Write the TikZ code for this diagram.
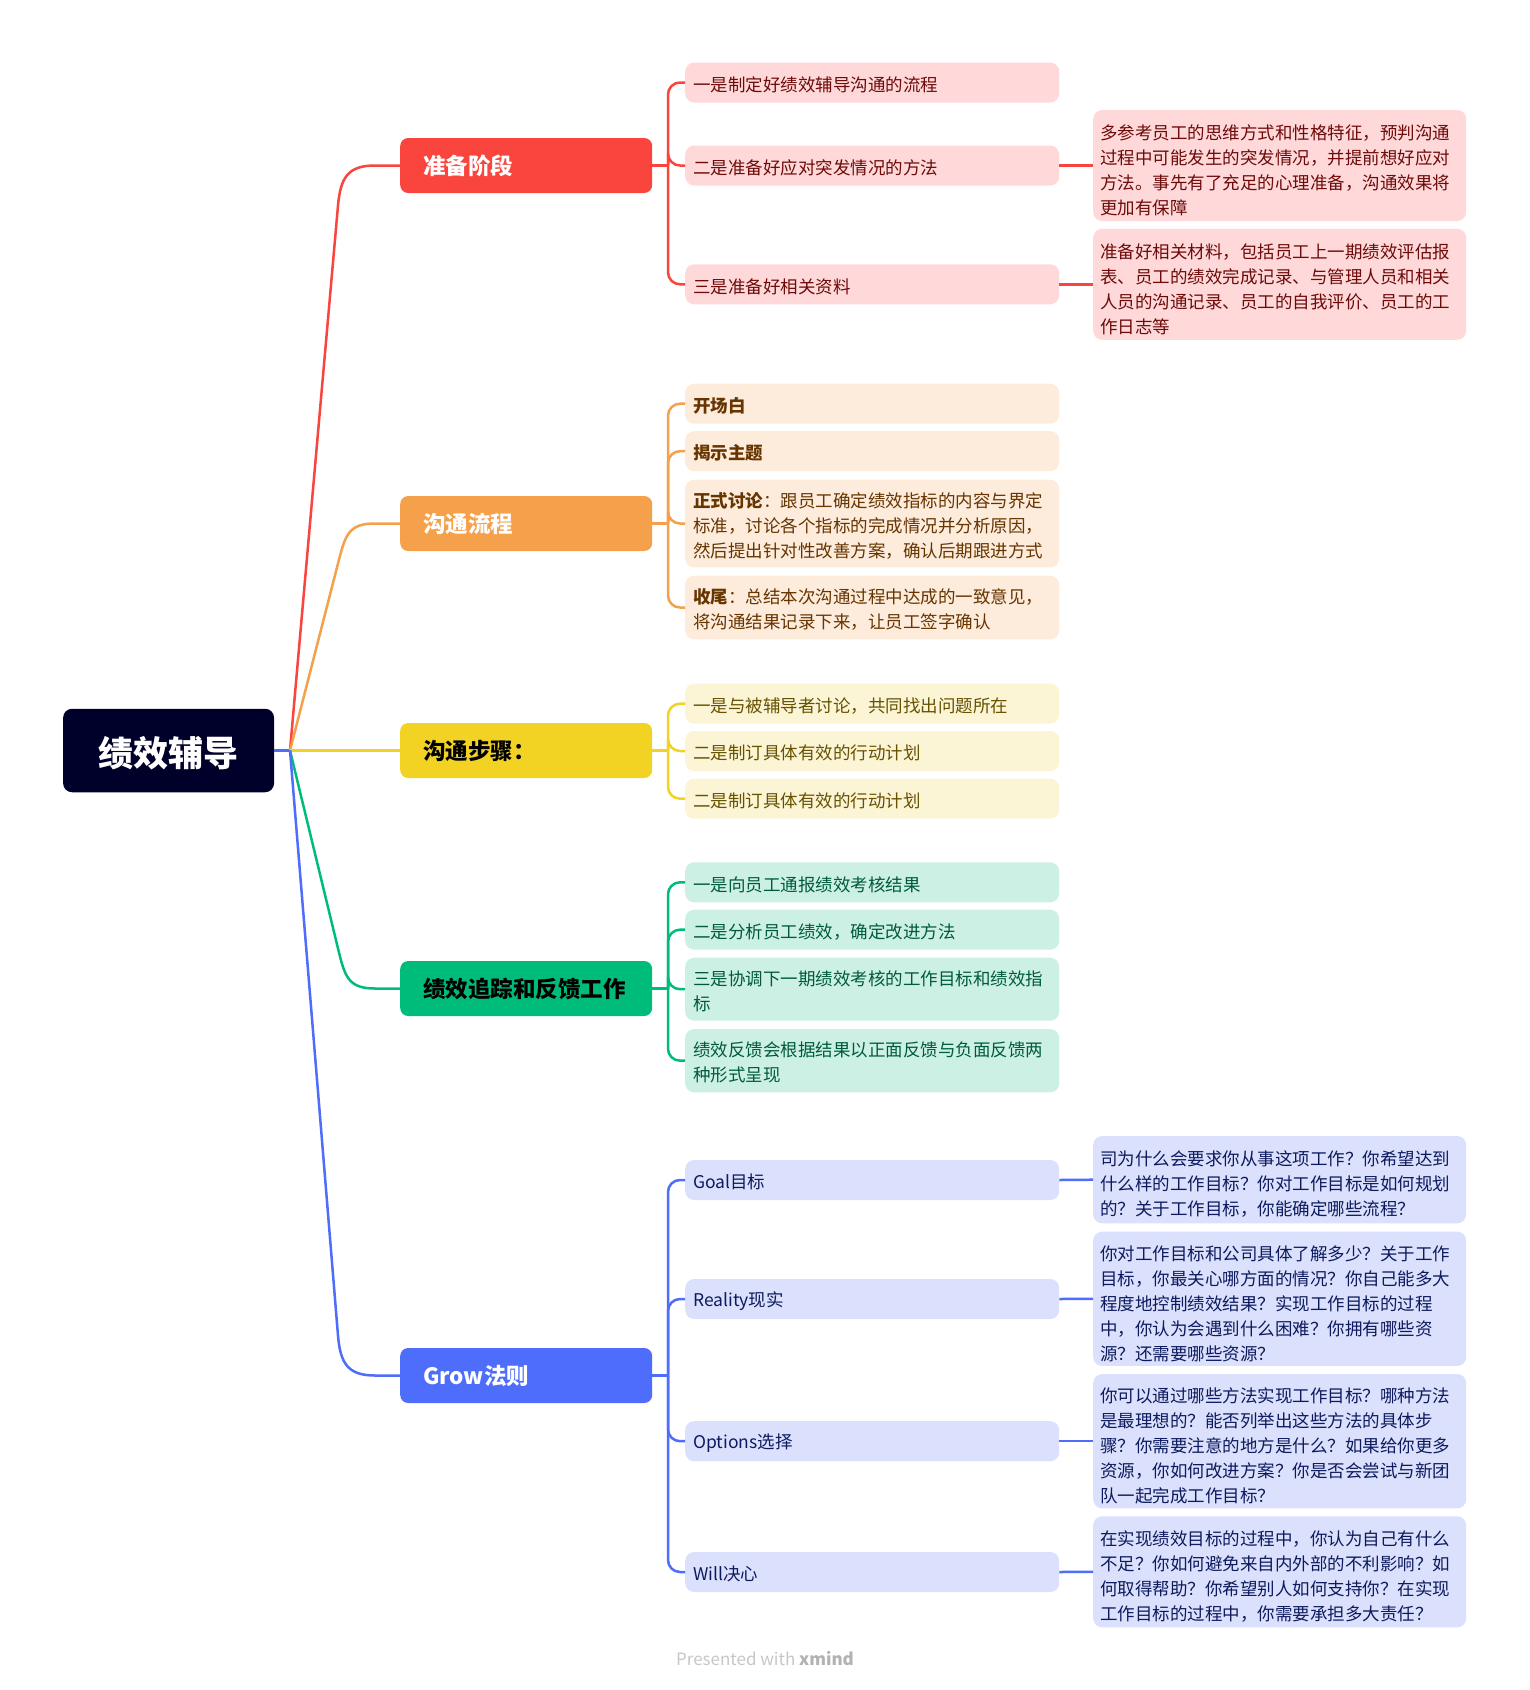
\documentclass[tikz,border=0pt]{standalone}
\usepackage{fontspec}
\setmainfont{Noto Sans CJK SC}
\definecolor{rootc}{HTML}{00012A}
\definecolor{redM}{HTML}{F9453D}\definecolor{redL}{HTML}{FFD9D9}\definecolor{redT}{HTML}{6E0A0A}
\definecolor{orgM}{HTML}{F5A04B}\definecolor{orgL}{HTML}{FDEBDC}\definecolor{orgT}{HTML}{663500}
\definecolor{yelM}{HTML}{F2D324}\definecolor{yelL}{HTML}{FBF5D5}\definecolor{yelT}{HTML}{665200}
\definecolor{grnM}{HTML}{00BC7B}\definecolor{grnL}{HTML}{CCF1E4}\definecolor{grnT}{HTML}{005B3A}
\definecolor{bluM}{HTML}{4D6DFA}\definecolor{bluL}{HTML}{DBE1FC}\definecolor{bluT}{HTML}{0D1A5E}
\begin{document}
\begin{tikzpicture}[x=1pt,y=-1pt,
  rootbox/.style={rounded corners=9pt, fill=rootc, text=white, minimum width=211pt, minimum height=83.5pt, inner sep=0pt, font=\fontsize{35}{40}\selectfont\bfseries, execute at begin node={\rule{0pt}{35pt}}},
  mainbox/.style={rounded corners=8pt, anchor=west, minimum width=252pt, minimum height=55pt, inner xsep=23pt, inner ysep=0pt, text width=206pt, align=left, font=\fontsize{22.5}{27}\selectfont\bfseries},
  subbox/.style={rounded corners=9pt, anchor=west, inner xsep=8pt, inner ysep=0pt, text width=358pt, align=left, minimum height=40pt, font=\fontsize{17.5}{25}\selectfont, execute at begin node={\rule{0pt}{19pt}}},
  leafbox/.style={rounded corners=9pt, anchor=west, inner xsep=7pt, inner ysep=0pt, text width=359pt, align=left, font=\fontsize{17.5}{25}\selectfont, execute at begin node={\rule{0pt}{24pt}}},
  link/.style={line width=2.5pt},
  spine/.style={line width=2.5pt, rounded corners=12pt}
]
\useasboundingbox[fill=white] (0,0) rectangle (1530,1690);

% root
\node[rootbox] (root) at (168.6,750.5) {绩效辅导};
\coordinate (J) at (290,750.5);

% main nodes
\node[mainbox, fill=redM, text=white] (m1) at (400,165.5) {准备阶段};
\node[mainbox, fill=orgM, text=white] (m2) at (400,523.5) {沟通流程};
\node[mainbox, fill=yelM, text=black] (m3) at (400,750.5) {沟通步骤：};
\node[mainbox, fill=grnM, text=black] (m4) at (400,988.5) {绩效追踪和反馈工作};
\node[mainbox, fill=bluM, text=white] (m5) at (400,1375.5) {Grow法则};

% red children
\node[subbox, fill=redL, text=redT] (r1) at (685,82.5) {一是制定好绩效辅导沟通的流程};
\node[subbox, fill=redL, text=redT] (r2) at (685,165.5) {二是准备好应对突发情况的方法};
\node[subbox, fill=redL, text=redT] (r3) at (685,284.3) {三是准备好相关资料};
\node[leafbox, fill=redL, text=redT, minimum height=111pt] (r2a) at (1093,165.5) {多参考员工的思维方式和性格特征，预判沟通\\过程中可能发生的突发情况，并提前想好应对\\方法。事先有了充足的心理准备，沟通效果将\\更加有保障};
\node[leafbox, fill=redL, text=redT, minimum height=111pt] (r3a) at (1093,284.3) {准备好相关材料，包括员工上一期绩效评估报\\表、员工的绩效完成记录、与管理人员和相关\\人员的沟通记录、员工的自我评价、员工的工\\作日志等};

% orange children
\node[subbox, fill=orgL, text=orgT] (o1) at (685,403.7) {\textbf{开场白}};
\node[subbox, fill=orgL, text=orgT] (o2) at (685,451.2) {\textbf{揭示主题}};
\node[subbox, fill=orgL, text=orgT, minimum height=87.7pt] (o3) at (685,523.5) {\textbf{正式讨论}：跟员工确定绩效指标的内容与界定\\标准，讨论各个指标的完成情况并分析原因，\\然后提出针对性改善方案，确认后期跟进方式};
\node[subbox, fill=orgL, text=orgT, minimum height=63.6pt] (o4) at (685,607.5) {\textbf{收尾}：总结本次沟通过程中达成的一致意见，\\将沟通结果记录下来，让员工签字确认};

% yellow children
\node[subbox, fill=yelL, text=yelT] (y1) at (685,703.7) {一是与被辅导者讨论，共同找出问题所在};
\node[subbox, fill=yelL, text=yelT] (y2) at (685,751) {二是制订具体有效的行动计划};
\node[subbox, fill=yelL, text=yelT] (y3) at (685,798.7) {二是制订具体有效的行动计划};

% green children
\node[subbox, fill=grnL, text=grnT] (g1) at (685,882.3) {一是向员工通报绩效考核结果};
\node[subbox, fill=grnL, text=grnT] (g2) at (685,929.7) {二是分析员工绩效，确定改进方法};
\node[subbox, fill=grnL, text=grnT, minimum height=63pt] (g3) at (685,989.2) {三是协调下一期绩效考核的工作目标和绩效指\\标};
\node[subbox, fill=grnL, text=grnT, minimum height=63.3pt] (g4) at (685,1060.7) {绩效反馈会根据结果以正面反馈与负面反馈两\\种形式呈现};

% blue children
\node[subbox, fill=bluL, text=bluT] (b1) at (685,1180) {Goal目标};
\node[subbox, fill=bluL, text=bluT] (b2) at (685,1299) {Reality现实};
\node[subbox, fill=bluL, text=bluT] (b3) at (685,1441.2) {Options选择};
\node[subbox, fill=bluL, text=bluT] (b4) at (685,1572) {Will决心};
\node[leafbox, fill=bluL, text=bluT, minimum height=87.3pt] (b1a) at (1093,1179.7) {司为什么会要求你从事这项工作？你希望达到\\什么样的工作目标？你对工作目标是如何规划\\的？关于工作目标，你能确定哪些流程？};
\node[leafbox, fill=bluL, text=bluT, minimum height=134.3pt] (b2a) at (1093,1298.8) {你对工作目标和公司具体了解多少？关于工作\\目标，你最关心哪方面的情况？你自己能多大\\程度地控制绩效结果？实现工作目标的过程\\中，你认为会遇到什么困难？你拥有哪些资\\源？还需要哪些资源？};
\node[leafbox, fill=bluL, text=bluT, minimum height=134.3pt] (b3a) at (1093,1441.2) {你可以通过哪些方法实现工作目标？哪种方法\\是最理想的？能否列举出这些方法的具体步\\骤？你需要注意的地方是什么？如果给你更多\\资源，你如何改进方案？你是否会尝试与新团\\队一起完成工作目标？};
\node[leafbox, fill=bluL, text=bluT, minimum height=111pt] (b4a) at (1093,1571.8) {在实现绩效目标的过程中，你认为自己有什么\\不足？你如何避免来自内外部的不利影响？如\\何取得帮助？你希望别人如何支持你？在实现\\工作目标的过程中，你需要承担多大责任？};

% watermark
\node[font=\fontsize{17}{20}\selectfont, text=black!22] (wm) at (765,1659) {Presented with \textbf{\color{black!30}xmind}};

% root connectors
\draw[link, bluM] (root.east) -- (J);
\draw[link, redM] (J) -- (338,205.5) .. controls (340.5,177.5) and (348,165.5) .. (375,165.5) -- (m1.west);
\draw[link, orgM] (J) -- (338,563.5) .. controls (345.2,535.5) and (348,523.5) .. (375,523.5) -- (m2.west);
\draw[link, yelM] (J) -- (m3.west);
\draw[link, grnM] (J) -- (338,948.5) .. controls (344.8,976.5) and (348,988.5) .. (375,988.5) -- (m4.west);
\draw[link, bluM] (J) -- (338,1335.5) .. controls (340.3,1363.5) and (348,1375.5) .. (375,1375.5) -- (m5.west);

% red spine
\draw[link, redM] (m1.east) -- (668,165.5);
\foreach \c in {r1,r2,r3} \draw[spine, redM] (668,165.5) |- (\c.west);
\draw[link, redM] (r2.east) -- (r2a.west);
\draw[link, redM] (r3.east) -- (r3a.west);

% orange spine
\draw[link, orgM] (m2.east) -- (668,523.5);
\foreach \c in {o1,o2,o3,o4} \draw[spine, orgM] (668,523.5) |- (\c.west);

% yellow spine
\draw[link, yelM] (m3.east) -- (668,750.5);
\foreach \c in {y1,y2,y3} \draw[spine, yelM] (668,750.5) |- (\c.west);

% green spine
\draw[link, grnM] (m4.east) -- (668,988.5);
\foreach \c in {g1,g2,g3,g4} \draw[spine, grnM] (668,988.5) |- (\c.west);

% blue spine
\draw[link, bluM] (m5.east) -- (668,1375.5);
\foreach \c in {b1,b2,b3,b4} \draw[spine, bluM] (668,1375.5) |- (\c.west);
\draw[link, bluM] (b1.east) -- (b1a.west);
\draw[link, bluM] (b2.east) -- (b2a.west);
\draw[link, bluM] (b3.east) -- (b3a.west);
\draw[link, bluM] (b4.east) -- (b4a.west);
\end{tikzpicture}
\end{document}
